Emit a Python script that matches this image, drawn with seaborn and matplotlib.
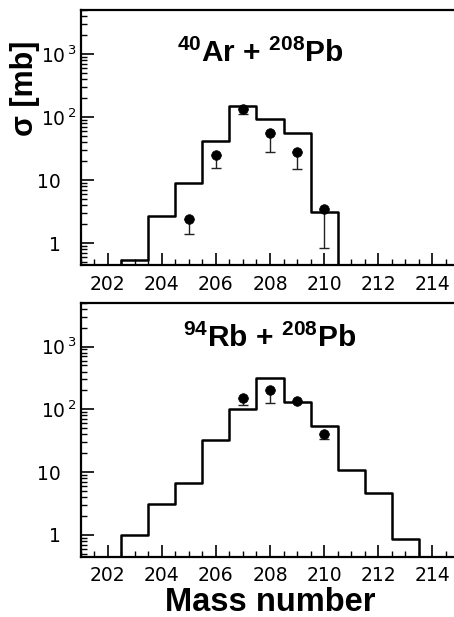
import numpy as np
import pandas as pd
import matplotlib
matplotlib.use("Agg")
import matplotlib.pyplot as plt
import seaborn as sns
from matplotlib.ticker import FixedLocator, FixedFormatter, LogLocator, MultipleLocator, NullFormatter

# ---- data ----
mass_ar_calc = [203, 204, 205, 206, 207, 208, 209, 210]
sigma_ar_calc = [0.55, 2.7, 9.1, 41, 151, 93, 56, 3.1]
mass_ar_exp = [205, 206, 207, 208, 209, 210]
sigma_ar_exp = [2.4, 25, 134, 56, 27.5, 3.5]
sigma_ar_low = [1.4, 15.3, 113, 28, 15.1, 0.85]

mass_rb_calc = [203, 204, 205, 206, 207, 208, 209, 210, 211, 212, 213]
sigma_rb_calc = [1.0, 3.1, 6.6, 32, 103, 320, 131, 55, 10.8, 4.6, 0.85]
mass_rb_exp = [207, 208, 209, 210]
sigma_rb_exp = [149, 204, 138, 40.5]
sigma_rb_low = [118, 128, 132, 34]

x_tick_values = [202, 204, 206, 208, 210, 212, 214]
x_tick_labels = ["202", "204", "206", "208", "210", "212", "214"]
y_tick_values = [1, 10, 100, 1000]
y_tick_labels = ["1\u2002\u2004", "10\u2002\u2004", r"$\mathdefault{10^{\,2}}$", r"$\mathdefault{10^{\,3}}$"]
titles = [r"$^{\mathbf{40}}$Ar + $^{\mathbf{208}}$Pb", r"$^{\mathbf{94}}$Rb + $^{\mathbf{208}}$Pb"]
y_label = "\u03c3 [mb]"
x_label = "Mass number"

sns.set_style("ticks")
plt.rcParams["font.family"] = ["DejaVu Sans"]
plt.rcParams["text.color"] = "black"
plt.rcParams["axes.labelcolor"] = "black"
plt.rcParams["mathtext.fontset"] = "custom"
plt.rcParams["mathtext.rm"] = "DejaVu Sans"
plt.rcParams["mathtext.bf"] = "Liberation Sans:bold"

fig = plt.figure(figsize=(4.54, 6.17), dpi=100)
W, H = 454.0, 617.0
left_px, right_px = 80.5, 459.5
ax_top = fig.add_axes([left_px / W, 1 - 265 / H, (right_px - left_px) / W, 255 / H])
ax_bot = fig.add_axes([left_px / W, 1 - 556.7 / H, (right_px - left_px) / W, 254 / H])

panels = [
    (ax_top, mass_ar_calc, sigma_ar_calc, mass_ar_exp, sigma_ar_exp, sigma_ar_low, titles[0], 0.474, 0.796),
    (ax_bot, mass_rb_calc, sigma_rb_calc, mass_rb_exp, sigma_rb_exp, sigma_rb_low, titles[1], 0.50, 0.824),
]

for ax, mc, sc, me, se, sl, title, tx, ty in panels:
    calc = pd.DataFrame({"mass": mc, "sigma": sc})
    sns.histplot(data=calc, x="mass", weights="sigma", binwidth=1.0, binrange=(201.5, 214.5),
                 element="step", fill=False, color="black", linewidth=1.8, ax=ax)
    ax.set_yscale("log", nonpositive="clip")
    se_arr = np.array(se)
    sl_arr = np.array(sl)
    ax.errorbar(me, se_arr, yerr=[se_arr - sl_arr, np.zeros_like(se_arr)], fmt="none",
                ecolor="#222222", elinewidth=1.0, capsize=3.5, capthick=1.0, zorder=3)
    exp = pd.DataFrame({"mass": me, "sigma": se})
    sns.scatterplot(data=exp, x="mass", y="sigma", color="black", s=48,
                    edgecolor="black", linewidth=0.5, ax=ax, zorder=4)
    ax.set_xlim(201, 215)
    ax.set_ylim(0.45, 5000)
    ax.set_xlabel("")
    ax.set_ylabel("")
    ax.xaxis.set_major_locator(FixedLocator(x_tick_values))
    ax.xaxis.set_major_formatter(FixedFormatter(x_tick_labels))
    ax.xaxis.set_minor_locator(MultipleLocator(0.5))
    ax.yaxis.set_major_locator(FixedLocator(y_tick_values))
    ax.yaxis.set_major_formatter(FixedFormatter(y_tick_labels))
    ax.yaxis.set_minor_locator(LogLocator(base=10, subs=np.arange(2, 10), numticks=20))
    ax.yaxis.set_minor_formatter(NullFormatter())
    ax.tick_params(axis="both", which="major", direction="in", length=9, width=1.2,
                   labelsize=13.5, colors="black")
    ax.tick_params(axis="both", which="minor", direction="in", length=4.5, width=1.0,
                   colors="black")
    ax.tick_params(axis="x", which="major", pad=7)
    ax.tick_params(axis="y", which="major", pad=3)
    for sp in ax.spines.values():
        sp.set_linewidth(1.6)
        sp.set_color("black")
    ax.text(tx, ty, title, transform=ax.transAxes, ha="center", va="baseline",
            fontsize=21.5, fontweight="bold", family="Liberation Sans", color="black")

fig.text(25 / W, 1 - 88 / H, y_label, rotation=90, ha="center", va="center",
         fontsize=22, fontweight="bold", family="Liberation Sans", color="black")
fig.text(270 / W, 0.009, x_label, ha="center", va="baseline",
         fontsize=23.5, fontweight="bold", family="Liberation Sans", color="black")

fig.savefig("out.png", dpi=100)
